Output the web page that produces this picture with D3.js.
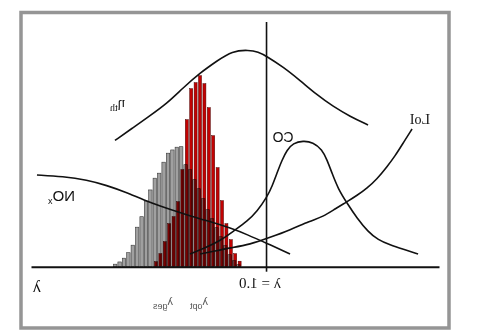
<!DOCTYPE html>
<html>
<head>
<meta charset="utf-8">
<script src="https://cdn.jsdelivr.net/npm/d3@7"></script>
<style>
  html, body { margin: 0; padding: 0; background: #fff; }
  svg { display: block; }
</style>
</head>
<body>
<svg id="chart" width="485" height="334"></svg>
<script>
// ---- data -------------------------------------------------------------
// air ratio λ at the centre of each histogram bin
const lambdaBins = [1.065, 1.075, 1.085, 1.095, 1.105, 1.115, 1.125, 1.135, 1.145, 1.155,
                    1.165, 1.175, 1.185, 1.195, 1.205, 1.215, 1.225, 1.235, 1.245, 1.255,
                    1.265, 1.275, 1.285, 1.295, 1.305, 1.315, 1.325, 1.335, 1.345];
// distribution of the overall air ratio (λges)
const gesCounts = [0.8, 2.4, 4.8, 8.4, 12.0, 15.6, 19.2, 22.8, 27.2, 31.2,
                   34.8, 38.8, 40.8, 48.0, 47.8, 46.7, 45.4, 41.8, 37.4, 35.4,
                   30.7, 26.3, 20.0, 15.8, 8.6, 5.6, 3.4, 1.9, 1.0];
// distribution of the optimised air ratio (λopt)
const optCounts = [2.2, 5.2, 10.8, 17.2, 26.4, 39.6, 52.4, 63.6, 73.2, 76.4,
                   73.6, 71.2, 58.8, 38.8, 26.0, 20.0, 17.2, 10.0, 5.2, 2.0,
                   0, 0, 0, 0, 0, 0, 0, 0, 0];

// curves: [λ, relative value]
const etaTh = [[0.7705, 56.7], [0.8114, 60.1], [0.85, 64.1], [0.8864, 68.7], [0.925, 74.5],
               [0.9636, 79.9], [1.0, 84.1], [1.0205, 85.9], [1.0409, 86.7], [1.0795, 86.3],
               [1.1136, 82.3], [1.1523, 77.5], [1.1909, 71.5], [1.2273, 65.3], [1.2659, 60.4],
               [1.3045, 55.6], [1.3455, 50.5]];
const coCurve = [[0.6568, 5.1], [0.6909, 7.0], [0.7205, 8.7], [0.7477, 10.7], [0.7705, 14.0],
                 [0.7955, 19.4], [0.8182, 25.4], [0.8386, 31.2], [0.8523, 37.4], [0.8636, 42.7],
                 [0.875, 46.9], [0.8955, 49.8], [0.9182, 50.4], [0.9409, 49.4], [0.9545, 46.7],
                 [0.9659, 42.7], [0.9773, 37.5], [0.9886, 32.1], [1.0, 27.9], [1.0227, 22.1],
                 [1.0455, 18.1], [1.0727, 14.7], [1.1068, 10.3], [1.1409, 7.5], [1.175, 5.1]];
const loiCurve = [[0.6705, 55.1], [0.6909, 49.4], [0.7091, 44.3], [0.7273, 40.0], [0.75, 35.1],
                  [0.7727, 31.4], [0.7955, 28.5], [0.8182, 26.0], [0.8455, 23.1], [0.8727, 20.0],
                  [0.9023, 18.3], [0.9477, 14.7], [0.9932, 11.7], [1.0386, 8.9], [1.0841, 7.5],
                  [1.1182, 6.3], [1.1523, 5.1]];
const noxCurve = [[0.9477, 5.1], [1.0, 9.3], [1.0455, 12.9], [1.0841, 15.5], [1.1227, 17.7],
                  [1.1523, 19.1], [1.1955, 21.5], [1.2432, 24.3], [1.2773, 26.5], [1.3227, 29.9],
                  [1.3636, 32.5], [1.4091, 34.7], [1.4636, 36.1], [1.5227, 36.7]];

const axisExtent = [0.607, 1.534];
const tickValues = [1.0];
const tickLabels = ["λ = 1.0"];

// ---- drawing ----------------------------------------------------------
const W = 485, H = 334;
const svg = d3.select("#chart");
// the whole figure is drawn as a horizontal mirror image
const g = svg.append("g").attr("transform", `translate(${W},0) scale(-1,1)`);

// frame
g.append("rect")
  .attr("x", 36).attr("y", 12.5).attr("width", 428).attr("height", 315.5)
  .attr("fill", "#fff").attr("stroke", "#959595").attr("stroke-width", 3.5);

const x = d3.scaleLinear().domain(axisExtent).range([45, 453]);
const y = d3.scaleLinear().domain([0, 100]).range([266.7, 16.7]);

// histogram bars
const greyW = 3.4, redW = 3.0, redShift = -1.2;
g.append("g").selectAll("rect")
  .data(lambdaBins.map((l, i) => ({ l, v: gesCounts[i] })))
  .join("rect")
  .attr("x", d => x(d.l) - greyW / 2)
  .attr("width", greyW)
  .attr("y", d => y(d.v))
  .attr("height", d => y(0) - y(d.v))
  .attr("fill", "#a0a0a0")
  .attr("stroke", "#383838")
  .attr("stroke-width", 0.6);

g.append("g").selectAll("rect")
  .data(lambdaBins.map((l, i) => ({ l, v: optCounts[i] })).filter(d => d.v > 0))
  .join("rect")
  .attr("x", d => x(d.l) + redShift - redW / 2)
  .attr("width", redW)
  .attr("y", d => y(d.v))
  .attr("height", d => y(0) - y(d.v))
  .attr("fill", "#c20202")
  .attr("stroke", "#4a0000")
  .attr("stroke-width", 0.5)
  .style("mix-blend-mode", "multiply");

// axis with the λ = 1 marker line
const axis = d3.axisBottom(x)
  .tickValues(tickValues)
  .tickFormat((d, i) => tickLabels[i])
  .tickSizeOuter(0);
const ax = g.append("g").attr("transform", `translate(0,${y(0)})`).call(axis);
ax.select(".domain").attr("stroke", "#111").attr("stroke-width", 2);
ax.selectAll(".tick line")
  .attr("y1", 5).attr("y2", 22 - y(0))
  .attr("stroke", "#111").attr("stroke-width", 1.6);
ax.selectAll(".tick text")
  .attr("y", 21).attr("dy", 0).attr("dx", 6.5)
  .attr("font-family", "Liberation Serif").attr("font-size", 15).attr("fill", "#111");

// curves
const line = d3.line()
  .x(d => x(d[0])).y(d => y(d[1]))
  .curve(d3.curveBasis);
[etaTh, coCurve, loiCurve, noxCurve].forEach(c => {
  g.append("path").attr("d", line(c))
    .attr("fill", "none").attr("stroke", "#111").attr("stroke-width", 1.6);
});

// labels
function label(px, py, main, sub, opt) {
  const t = g.append("text")
    .attr("x", px).attr("y", py)
    .attr("font-family", opt.family).attr("font-size", opt.size)
    .attr("fill", opt.color || "#111");
  t.append("tspan").text(main);
  if (sub) t.append("tspan").attr("font-size", opt.subSize).attr("dy", opt.subDy).text(sub);
}
label(444, 292, "λ", null, { family: "Liberation Serif", size: 17 });
label(191.5, 141.5, "CO", null, { family: "Liberation Sans", size: 14 });
label(410, 201, "NO", "x", { family: "Liberation Sans", size: 15, subSize: 9, subDy: 3 });
label(55, 124, "LoI", null, { family: "Liberation Serif", size: 14 });
label(360, 107, "η", "th", { family: "Liberation Serif", size: 14, subSize: 10, subDy: 4 });
label(277, 305, "λ", "opt", { family: "Liberation Sans", size: 11, subSize: 9, subDy: 4, color: "#555" });
label(312, 305, "λ", "ges", { family: "Liberation Sans", size: 11, subSize: 9, subDy: 4, color: "#555" });
</script>
</body>
</html>
